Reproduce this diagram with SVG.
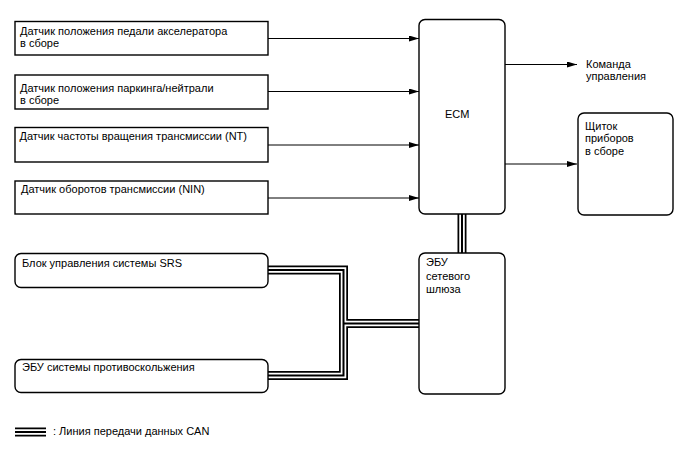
<svg xmlns="http://www.w3.org/2000/svg" width="688" height="463" viewBox="0 0 688 463">
<style>
text{font-family:"Liberation Sans",Arial,sans-serif;font-size:11px;fill:#000}
.box{fill:#fff;stroke:#000;stroke-width:1.4}
.ln{stroke:#000;stroke-width:1;fill:none}
.c1{stroke:#000;stroke-width:9;fill:none}
.c2{stroke:#fff;stroke-width:5.5;fill:none}
.c3{stroke:#000;stroke-width:2;fill:none}
</style>
<defs>
<marker id="ah" markerWidth="10" markerHeight="6" refX="10" refY="3" orient="auto" markerUnits="userSpaceOnUse">
<path d="M0,0 L10,3 L0,6 Z" fill="#000"/>
</marker>
</defs>
<g id="connectors">
<line class="ln" x1="268" y1="38.5" x2="419" y2="38.5" marker-end="url(#ah)"/>
<line class="ln" x1="268" y1="91.5" x2="419" y2="91.5" marker-end="url(#ah)"/>
<line class="ln" x1="268" y1="145" x2="419" y2="145" marker-end="url(#ah)"/>
<line class="ln" x1="268" y1="198" x2="419" y2="198" marker-end="url(#ah)"/>
<line class="ln" x1="505" y1="64.5" x2="577" y2="64.5" marker-end="url(#ah)"/>
<line class="ln" x1="505" y1="164" x2="577" y2="164" marker-end="url(#ah)"/>
<g id="can">
<path class="c1" d="M268,270 H343.5 V375.5 H268 M343.5,323.5 H419 M462,214 V253"/>
<path class="c2" d="M268,270 H343.5 V375.5 H268 M343.5,323.5 H419 M462,214 V253"/>
<path class="c3" d="M268,270 H343.5 V375.5 H268 M343.5,323.5 H419 M462,214 V253"/>
</g>
</g>
<g id="n1"><rect class="box" x="15" y="21.5" width="253" height="33.5"/>
<text x="20" y="35">Датчик положения педали акселератора</text><text x="20" y="47">в сборе</text></g>
<g id="n2"><rect class="box" x="15" y="75" width="253" height="34"/>
<text x="20" y="92">Датчик положения паркинга/нейтрали</text><text x="20" y="104">в сборе</text></g>
<g id="n3"><rect class="box" x="15" y="127.5" width="253" height="34.5"/>
<text x="19.5" y="140">Датчик частоты вращения трансмиссии (NT)</text></g>
<g id="n4"><rect class="box" x="15" y="181" width="253" height="33"/>
<text x="21" y="193">Датчик оборотов трансмиссии (NIN)</text></g>
<g id="ecm"><rect class="box" x="419" y="19.5" width="86" height="194.5" rx="6"/>
<text x="445" y="117.5">ECM</text></g>
<g id="cmd"><text x="586" y="68">Команда</text><text x="586" y="80">управления</text></g>
<g id="cluster"><rect class="box" x="578" y="113" width="95" height="102" rx="6"/>
<text x="585" y="130">Щиток</text><text x="585" y="142">приборов</text><text x="585" y="155">в сборе</text></g>
<g id="srs"><rect class="box" x="15" y="253.5" width="253" height="34" rx="6"/>
<text x="22" y="266.5">Блок управления системы SRS</text></g>
<g id="abs"><rect class="box" x="15" y="359.5" width="253" height="33" rx="6"/>
<text x="22" y="371">ЭБУ системы противоскольжения</text></g>
<g id="gateway"><rect class="box" x="419" y="253" width="86" height="141" rx="6"/>
<text x="426" y="266">ЭБУ</text><text x="426" y="279.5">сетевого</text><text x="426" y="293">шлюза</text></g>
<g id="legend">
<line class="c1" x1="15" y1="432" x2="46" y2="432"/>
<line class="c2" x1="15" y1="432" x2="46" y2="432"/>
<line class="c3" x1="15" y1="432" x2="46" y2="432"/>
<text x="53" y="435">: Линия передачи данных CAN</text>
</g>
</svg>
